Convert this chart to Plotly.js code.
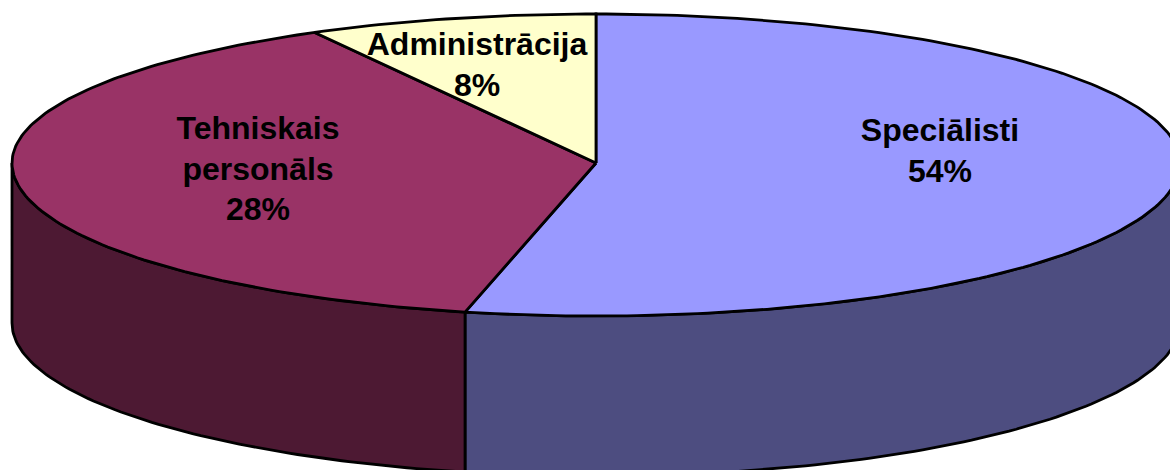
<!DOCTYPE html>
<html>
<head>
<meta charset="utf-8">
<script src="https://cdn.plot.ly/plotly-3.0.1.min.js"></script>
<style>html,body{margin:0;padding:0;background:#fff;overflow:hidden}#chart{width:1170px;height:470px}</style>
</head>
<body>
<div id="chart"></div>
<script>
// Data
const categories = ["Speciālisti", "Tehniskais personāls", "Administrācija"];
const sliceShares = [53.6, 38.4, 8];          // share of the circle each slice occupies as drawn
const printedPercents = ["54%", "28%", "8%"]; // percentages as printed in the picture
const labelLines = [["Speciālisti"], ["Tehniskais", "personāls"], ["Administrācija"]];

// Styles and geometry
const topColors = ["#9999FF", "#993366", "#FFFFCC"];
const wallColors = ["#4D4D80", "#4D1933", "#808066"];
const CX = 596, CY = 163, RX = 584, RY_BACK = 149, RY_FRONT = 153, DEPTH = 160;
const labelCentres = [[940, 133], [258, 131], [477, 47]];
const LINE_STEP = 40.5;

const rad = d => d * Math.PI / 180;
const px = d => CX + RX * Math.sin(rad(d));
const py = (d, drop) => {
  const c = Math.cos(rad(d));
  return CY - (c > 0 ? RY_BACK : RY_FRONT) * c + (drop || 0);
};

function arc(a, b, drop) {
  const xs = [], ys = [], n = Math.max(2, Math.ceil(Math.abs(b - a)));
  for (let i = 0; i <= n; i++) {
    const t = a + (b - a) * i / n;
    xs.push(px(t)); ys.push(py(t, drop));
  }
  return [xs, ys];
}
const outline = {color: "#000", width: 2.8};
function poly(xs, ys, color, name) {
  return {type: "scatter", mode: "lines", x: xs, y: ys, fill: "toself", fillcolor: color,
          line: outline, hoverinfo: "skip", showlegend: false, name: name};
}

const total = sliceShares.reduce((a, b) => a + b, 0);
let start = 0;
const walls = [], tops = [];
sliceShares.forEach((v, i) => {
  const end = start + v / total * 360;
  // The side wall is visible only on the front half of the ellipse
  const wa = Math.max(start, 90), wb = Math.min(end, 270);
  if (wb > wa) {
    const [tx, ty] = arc(wa, wb, 0);
    const [bx, by] = arc(wb, wa, DEPTH);
    walls.push(poly(tx.concat(bx, [tx[0]]), ty.concat(by, [ty[0]]), wallColors[i], categories[i] + " wall"));
  }
  const [ax, ay] = arc(start, end, 0);
  tops.push(poly([CX].concat(ax, [CX]), [CY].concat(ay, [CY]), topColors[i], categories[i]));
  start = end;
});

const tx = [], ty = [], tt = [];
labelLines.forEach((lines, i) => {
  lines.concat([printedPercents[i]]).forEach((s, j) => {
    tx.push(labelCentres[i][0]);
    ty.push(labelCentres[i][1] + j * LINE_STEP);
    tt.push("<b>" + s + "</b>");
  });
});
const labels = {type: "scatter", mode: "text", x: tx, y: ty, text: tt, textposition: "middle center",
  textfont: {family: "Liberation Sans, Arial, sans-serif", size: 32, color: "#000"},
  hoverinfo: "skip", showlegend: false};

const axis = {visible: false, fixedrange: true, showgrid: false, zeroline: false};
Plotly.newPlot("chart", walls.concat(tops, [labels]), {
  width: 1170, height: 470,
  margin: {l: 0, r: 0, t: 0, b: 0},
  paper_bgcolor: "#fff", plot_bgcolor: "#fff",
  xaxis: Object.assign({range: [0, 1170]}, axis),
  yaxis: Object.assign({range: [470, 0]}, axis),
  showlegend: false
}, {displayModeBar: false, staticPlot: true});
</script>
</body>
</html>
